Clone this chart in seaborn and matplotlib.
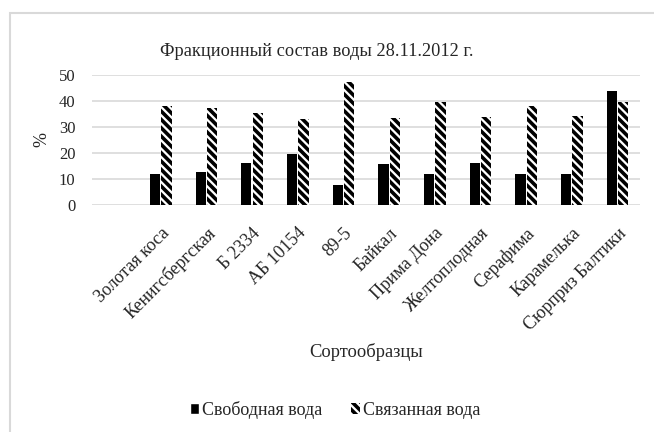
import pandas as pd
import matplotlib
matplotlib.use('Agg')
import matplotlib.pyplot as plt
import seaborn as sns
from matplotlib.patches import Rectangle, Patch

# Data
sorts = ['Золотая коса', 'Кенигсбергская', 'Б 2334', 'АБ 10154', '89-5', 'Байкал',
         'Прима Дона', 'Желтоплодная', 'Серафима', 'Карамелька', 'Сюрприз Балтики']
free_water = [11.8, 12.6, 16.2, 19.8, 7.9, 15.8, 11.9, 16.2, 11.9, 11.9, 43.6]
bound_water = [38.1, 37.1, 35.3, 32.9, 47.3, 33.5, 39.4, 33.9, 37.9, 34.2, 39.7]
series = ['Свободная вода', 'Связанная вода']

df = pd.DataFrame({
    'sort': sorts * 2,
    'value': free_water + bound_water,
    'kind': [series[0]] * len(sorts) + [series[1]] * len(sorts),
})

sns.set_style('white')
plt.rcParams['font.family'] = ['Liberation Serif', 'DejaVu Serif']
plt.rcParams['hatch.linewidth'] = 2.6

HATCH = '\\' * 4

fig = plt.figure(figsize=(6.54, 4.32), dpi=100)
ax = fig.add_axes([0.141, 0.525, 0.838, 0.302])

sns.barplot(data=df, x='sort', y='value', hue='kind', order=sorts,
            palette=['black', 'white'], width=0.5, gap=0.1,
            edgecolor='none', ax=ax, legend=False)

# hatch the bound water bars
n = len(sorts)
for p in ax.patches[n:2 * n]:
    p.set_hatch(HATCH)
    p.set_edgecolor('black')
    p.set_linewidth(0)

ax.set_xlim(-1.5, n - 0.5)
ax.set_ylim(0, 50)
ax.set_yticks(range(0, 51, 10))
ax.yaxis.grid(True, color='#d9d9d9', lw=1.2)
ax.set_axisbelow(True)
for s in ax.spines.values():
    s.set_visible(False)
ax.tick_params(axis='y', length=0, labelsize=12, pad=12)
ax.tick_params(axis='x', length=0, labelsize=13, pad=14)
plt.setp(ax.get_xticklabels(), rotation=45, ha='right', rotation_mode='anchor')

ax.set_xlabel('Сортообразцы', fontsize=13.3, labelpad=7)
ax.set_ylabel('%', fontsize=13, labelpad=6)
fig.text(317 / 654, 1 - 52 / 432, 'Фракционный состав воды 28.11.2012 г.',
         ha='center', va='center', fontsize=13.2)

handles = [Patch(facecolor='black', label=series[0]),
           Patch(facecolor='white', edgecolor='black', hatch=HATCH, lw=0, label=series[1])]
fig.legend(handles=handles, loc='center', bbox_to_anchor=(335 / 654, 1 - 410 / 432), ncol=2,
           frameon=False, fontsize=13, handlelength=0.5, handleheight=0.5,
           handletextpad=0.15, columnspacing=1.6)

# chart area border
fig.patches.append(Rectangle((10 / 654, -0.1), 1.1, 1.1 - 13 / 432,
                             transform=fig.transFigure, fill=False,
                             edgecolor='#d9d9d9', lw=1.5))

fig.savefig('out.png', dpi=100)
